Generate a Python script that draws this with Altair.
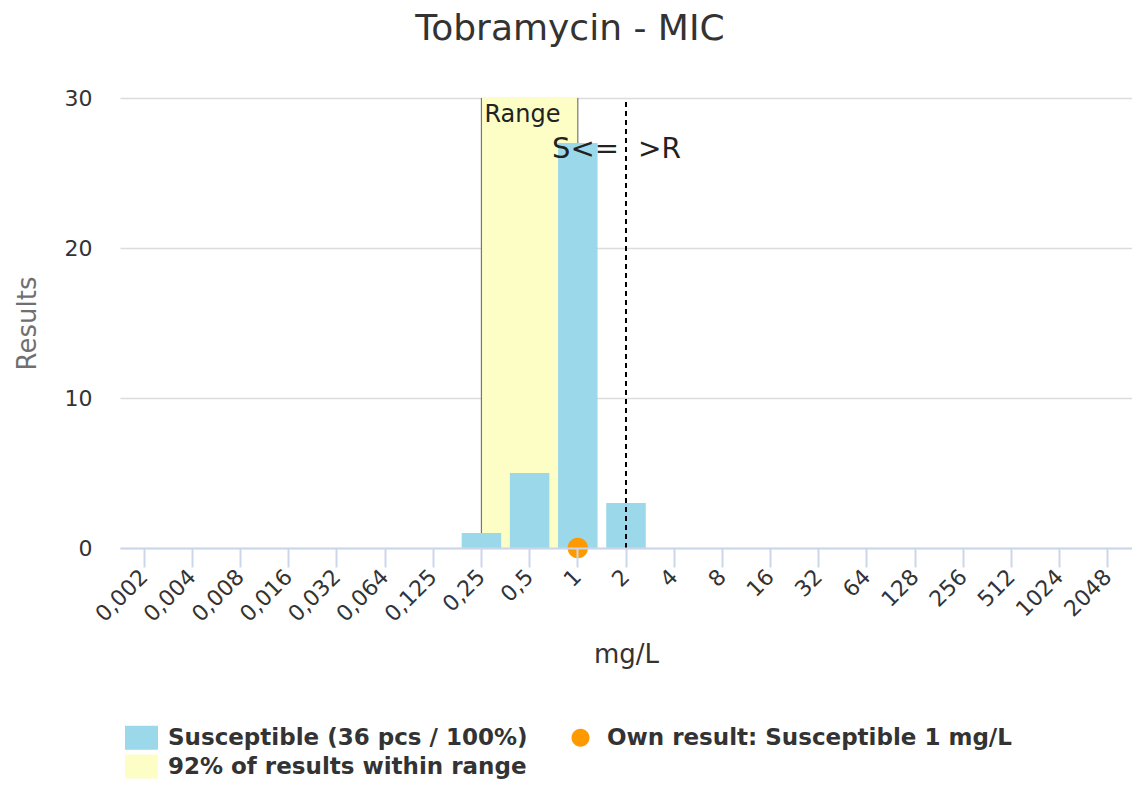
import altair as alt
import pandas as pd

# ---- data ----
categories = ["0,002", "0,004", "0,008", "0,016", "0,032", "0,064", "0,125",
              "0,25", "0,5", "1", "2", "4", "8", "16", "32", "64", "128",
              "256", "512", "1024", "2048"]
counts = [0, 0, 0, 0, 0, 0, 0, 1, 5, 27, 3, 0, 0, 0, 0, 0, 0, 0, 0, 0, 0]

SUSC = "Susceptible (36 pcs / 100%)"
OWN = "Own result: Susceptible 1 mg/L"
RANGE = "92% of results within range"
series_domain = [SUSC, RANGE, OWN]
series_colors = ["#9bd9ea", "#fdfdc6", "#ff9900"]

range_lo = ["0,25"]
range_hi = ["1"]
range_bottom = [0]
range_top = [30]
breakpoint_mic = ["2"]
own_mic = ["1"]
own_value = [0]
y_ticks = [0, 10, 20, 30]

# ---- shapes (legend swatch rectangle / circle) ----
RECT = "M-1,-0.727L1,-0.727L1,0.727L-1,0.727Z"
r = 0.545
k = 0.5523 * r
CIRC = (f"M0,{-r}C{k},{-r},{r},{-k},{r},0C{r},{k},{k},{r},0,{r}"
        f"C{-k},{r},{-r},{k},{-r},0C{-r},{-k},{-k},{-r},0,{-r}Z")

FONT = "DejaVu Sans"

xs = alt.Scale(domain=categories, paddingInner=0, paddingOuter=0)
ys = alt.Scale(domain=[0, 30], nice=False)
cs = alt.Scale(domain=series_domain, range=series_colors)
ss = alt.Scale(domain=series_domain, range=[RECT, RECT, CIRC])

leg = alt.Legend(
    orient="none", legendX=5, legendY=623, title=None, columns=2, direction="vertical",
    labelFont=FONT, labelFontSize=23, labelFontWeight="bold", labelColor="#333333",
    symbolSize=1089, labelOffset=10, columnPadding=36, rowPadding=-4,
    symbolStrokeWidth=0, padding=0, labelLimit=600,
)

x_axis = alt.Axis(labelAngle=-45, labelFont=FONT, labelFontSize=22, labelColor="#333333",
                  labelAlign="right", labelBaseline="middle",
                  tickSize=19, tickWidth=2, tickColor="#ccd6eb",
                  domainColor="#ccd6eb", domainWidth=2, labelPadding=6,
                  titleFont=FONT, titleFontSize=26, titleFontWeight="normal",
                  titleColor="#333333", titleY=114, titleBaseline="alphabetic",
                  grid=False)
y_axis = alt.Axis(values=y_ticks, labelFont=FONT, labelFontSize=22, labelColor="#333333",
                  ticks=False, domain=False, labelPadding=28,
                  grid=True, gridColor="#dcdcdc", gridWidth=1.5,
                  titleFont=FONT, titleFontSize=26, titleFontWeight="normal",
                  titleColor="#707070", titleX=-93, titleY=225,
                  titleAngle=-90, titleAlign="center", titleBaseline="middle")


def X(field, **kw):
    return alt.X(field, scale=xs, title="mg/L", axis=x_axis, **kw)


def Y(field):
    return alt.Y(field, scale=ys, title="Results", axis=y_axis)


bars_df = pd.DataFrame({"mic": categories, "count": counts, "series": [SUSC] * len(categories)})
range_df = pd.DataFrame({"lo": range_lo, "hi": range_hi, "y0": range_bottom,
                         "y1": range_top, "series": [RANGE]})
border_df = pd.DataFrame({"mic": range_lo + range_hi, "y0": range_bottom * 2, "y1": range_top * 2})
bp_df = pd.DataFrame({"mic": breakpoint_mic, "y0": range_bottom, "y1": range_top})
own_df = pd.DataFrame({"mic": own_mic, "count": own_value, "series": [OWN]})
range_txt_df = pd.DataFrame({"mic": range_lo, "y": range_top, "t": ["Range"]})
s_txt_df = pd.DataFrame({"mic": breakpoint_mic, "y": range_top, "t": ["S<="]})
r_txt_df = pd.DataFrame({"mic": breakpoint_mic, "y": range_top, "t": [">R"]})

band = alt.Chart(range_df).mark_rect().encode(
    x=X("lo:N", bandPosition=0.5),
    x2=alt.X2("hi", bandPosition=0.5),
    y=Y("y0:Q"),
    y2="y1:Q",
    color=alt.Color("series:N", scale=cs, legend=leg),
)

borders = alt.Chart(border_df).mark_rule(color="#777777", strokeWidth=1.2).encode(
    x=X("mic:N"), y=Y("y0:Q"), y2="y1:Q",
)

bars = alt.Chart(bars_df).mark_bar(width=alt.RelativeBandSize(0.82)).encode(
    x=X("mic:N"),
    y=Y("count:Q"),
    color=alt.Color("series:N", scale=cs, legend=leg),
)

bp_rule = alt.Chart(bp_df).mark_rule(color="#000000", strokeWidth=2, strokeDash=[5, 4]).encode(
    x=X("mic:N"), y=Y("y0:Q"), y2="y1:Q",
)

range_txt = alt.Chart(range_txt_df).mark_text(
    align="left", baseline="top", dx=3, dy=5, font=FONT, fontSize=24, color="#222222"
).encode(x=X("mic:N"), y=Y("y:Q"), text="t:N")

s_txt = alt.Chart(s_txt_df).mark_text(
    align="right", baseline="alphabetic", dx=-7, dy=60, font=FONT, fontSize=29, color="#222222"
).encode(x=X("mic:N"), y=Y("y:Q"), text="t:N")

r_txt = alt.Chart(r_txt_df).mark_text(
    align="left", baseline="alphabetic", dx=12, dy=60, font=FONT, fontSize=28, color="#222222"
).encode(x=X("mic:N"), y=Y("y:Q"), text="t:N")

own = alt.Chart(own_df).mark_point(filled=True, opacity=1, size=1400, strokeWidth=0).encode(
    x=X("mic:N"),
    y=Y("count:Q"),
    color=alt.Color("series:N", scale=cs, legend=leg),
    shape=alt.Shape("series:N", scale=ss, legend=leg),
)

chart = alt.layer(band, borders, bars, bp_rule, range_txt, s_txt, r_txt, own).properties(
    width=1012, height=450,
    title=alt.TitleParams("Tobramycin - MIC", font=FONT, fontSize=36, fontWeight="normal",
                          color="#333333", anchor="middle", dx=-56, offset=11,
                          baseline="alphabetic"),
    autosize=alt.AutoSizeParams(type="none"),
    padding={"left": 112, "top": 90, "right": 0, "bottom": 239},
).configure(font=FONT).configure_view(stroke=None)

chart.save("out.html", embed_options={"renderer": "svg", "actions": False})
